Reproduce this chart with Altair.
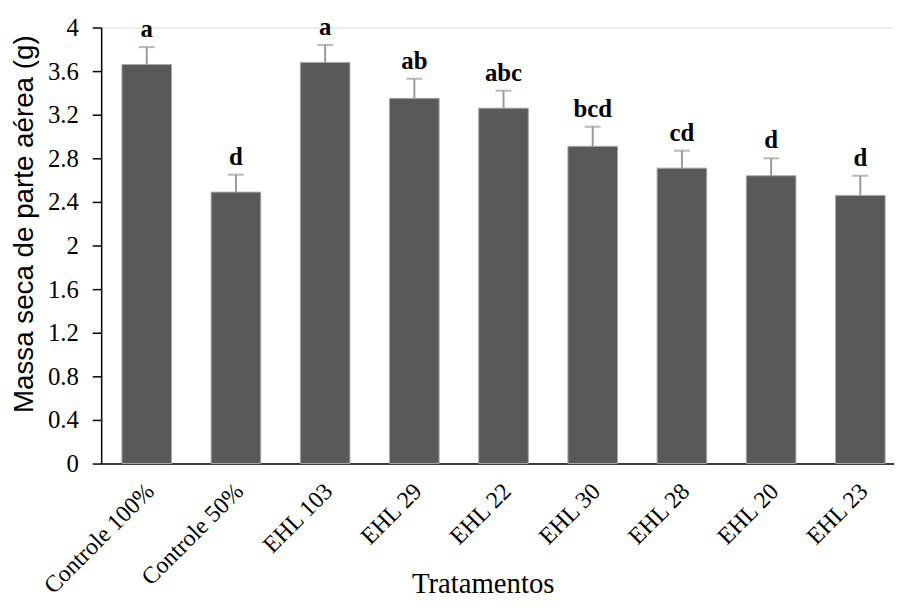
import altair as alt
import pandas as pd

categories = ["Controle 100%", "Controle 50%", "EHL 103", "EHL 29", "EHL 22",
              "EHL 30", "EHL 28", "EHL 20", "EHL 23"]
means = [3.66, 2.49, 3.68, 3.35, 3.26, 2.91, 2.71, 2.64, 2.46]
errors = [0.16, 0.16, 0.16, 0.18, 0.16, 0.18, 0.16, 0.16, 0.18]
letters = ["a", "d", "a", "ab", "abc", "bcd", "cd", "d", "d"]
y_ticks = [0, 0.4, 0.8, 1.2, 1.6, 2, 2.4, 2.8, 3.2, 3.6, 4]

df = pd.DataFrame({
    "cat": categories,
    "mean": means,
    "upper": [m + e for m, e in zip(means, errors)],
    "letter": letters,
})

SERIF = "Liberation Serif"
SANS = "Liberation Sans"

x = alt.X("cat:N", sort=categories,
          scale=alt.Scale(range=[0, 812], paddingInner=0.444, paddingOuter=0.233),
          axis=alt.Axis(title="Tratamentos", labelAngle=-45, labelAlign="right",
                        labelBaseline="middle", ticks=False, labelPadding=24,
                        labelOffset=4,
                        labelFontSize=24, titleFontSize=29, titleFontWeight="normal",
                        titleX=385, titleY=130, titleBaseline="alphabetic",
                        domainColor="black", domainWidth=1.5,
                        labelColor="black", titleColor="black",
                        labelFont=SERIF, titleFont=SERIF))
y = alt.Y("mean:Q", scale=alt.Scale(domain=[0, 4], nice=False),
          axis=alt.Axis(title="Massa seca de parte aérea (g)", values=y_ticks,
                        format="~g", grid=False, tickSize=9, tickColor="black",
                        tickWidth=1.5, domainColor="black", domainWidth=1.5,
                        labelFontSize=25, titleFontSize=28, titleFontWeight="normal",
                        labelPadding=14, titleX=-77, titleY=198,
                        titleBaseline="middle", labelColor="black",
                        titleColor="black", labelFont=SERIF, titleFont=SANS))

bars = alt.Chart(df).mark_bar(color="#595959", stroke="#a8a8a8", strokeWidth=1).encode(x=x, y=y)
rule = alt.Chart(df).mark_rule(color="#9a9a9a", strokeWidth=2).encode(
    x=alt.X("cat:N", sort=categories), y="mean:Q", y2="upper:Q")
cap = alt.Chart(df).mark_tick(color="#9a9a9a", size=16, thickness=2).encode(
    x=alt.X("cat:N", sort=categories), y="upper:Q")
text = alt.Chart(df).mark_text(font=SERIF, fontSize=25, fontWeight="bold",
                               baseline="bottom", dy=-5, color="black").encode(
    x=alt.X("cat:N", sort=categories), y="upper:Q", text="letter:N")

chart = alt.layer(bars, rule, cap, text).properties(
    width=800, height=440,
    autosize=alt.AutoSizeParams(type="none"),
    padding={"left": 94, "top": 17, "right": 0, "bottom": 135},
).configure_view(stroke=None).configure(
    background="white", font=SERIF
).configure_axisX(titleFont=SERIF, labelFont=SERIF).configure_axisY(
    titleFont=SANS, labelFont=SERIF)

chart.save("out.html", embed_options={"renderer": "svg", "actions": False})
